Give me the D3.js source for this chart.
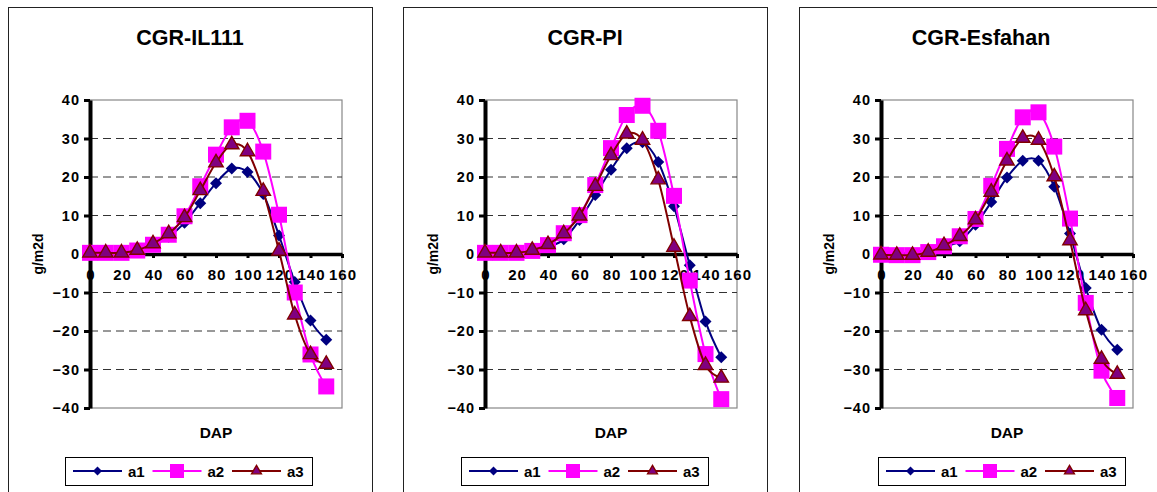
<!DOCTYPE html>
<html>
<head>
<meta charset="utf-8">
<script src="https://cdn.jsdelivr.net/npm/d3@7"></script>
<style>
    body { margin: 0; background: #fff; }
    text { font-family: "Liberation Sans", Arial, sans-serif; font-weight: bold; }
</style>
</head>
<body>
<div id="chart"></div>
<script>
// ######################## Data #############################################
const dap = [0, 10, 20, 30, 40, 50, 60, 70, 80, 90, 100, 110, 120, 130, 140, 150];
const seriesNames = ["a1", "a2", "a3"];
const panelTitles = ["CGR-IL111", "CGR-PI", "CGR-Esfahan"];
const xTicks = [0, 20, 40, 60, 80, 100, 120, 140, 160];
const yTicks = [-40, -30, -20, -10, 0, 10, 20, 30, 40];

const il111A1 = [0, 0, 0.2, 0.5, 2.2, 4.5, 8.1, 13.2, 18.4, 22.2, 21.3, 15.6, 4.8, -7.3, -17.3, -22.3];
const il111A2 = [0.3, 0.3, 0.3, 0.9, 2.4, 5.0, 9.8, 17.6, 25.8, 32.9, 34.6, 26.6, 10.2, -10.0, -26.1, -34.4];
const il111A3 = [0.3, 0.3, 0.3, 1.0, 2.7, 5.3, 9.5, 16.5, 23.7, 28.4, 26.6, 16.3, 0.8, -15.8, -26.1, -28.6];

const piA1 = [0, 0, 0.2, 0.5, 1.8, 3.8, 8.8, 15.3, 21.9, 27.5, 29.0, 23.9, 12.4, -2.9, -17.5, -26.8];
const piA2 = [0.3, 0.3, 0.3, 0.8, 2.3, 5.4, 10.1, 17.9, 27.5, 36.1, 38.5, 32.0, 15.1, -6.9, -26.0, -37.7];
const piA3 = [0.3, 0.3, 0.3, 1.0, 2.5, 5.3, 9.9, 17.6, 25.6, 31.2, 29.6, 19.3, 1.8, -16.2, -28.9, -32.2];

const esfA1 = [-0.1, 0, 0.3, 1.2, 2.0, 3.3, 7.6, 13.5, 19.9, 24.2, 24.2, 17.5, 5.3, -8.8, -19.7, -24.9];
const esfA2 = [-0.2, -0.3, -0.3, 0.5, 2.0, 4.6, 9.1, 17.7, 27.3, 35.5, 36.8, 27.9, 9.2, -12.7, -30.3, -37.4];
const esfA3 = [-0.2, -0.3, -0.3, 0.5, 2.2, 4.6, 8.9, 16.1, 24.2, 30.1, 29.6, 20.1, 3.5, -14.7, -27.3, -31.2];

const panelSeries = [
    [il111A1, il111A2, il111A3],
    [piA1, piA2, piA3],
    [esfA1, esfA2, esfA3]
];

// ######################## Layout / style ###################################
const W = 1157, H = 492;
const frameLefts = [8, 403, 799];
const frameWidth = 364;
const legendOffsets = [57, 58, 79]; // legend box left, relative to frame
const plot = { left: 82, width: 252, top: 100, bottom: 408 };

const styles = {
    a1: { color: "#000080", marker: "diamond" },
    a2: { color: "#FF00FF", marker: "square" },
    a3: { color: "#800000", marker: "triangle", fill: "#800080" }
};

const svg = d3.select("#chart")
    .append("svg")
    .attr("width", W)
    .attr("height", H);

svg.append("rect").attr("width", W).attr("height", H).attr("fill", "#fff");

// draw one marker centred on (cx, cy)
function drawMarker(g, name, cx, cy, big) {
    const st = styles[name];
    if (st.marker === "diamond") {
        const r = big ? 6 : 4.5;
        g.append("path")
            .attr("d", `M${cx},${cy - r}L${cx + r},${cy}L${cx},${cy + r}L${cx - r},${cy}Z`)
            .attr("fill", st.color);
    } else if (st.marker === "square") {
        const s = big ? 16 : 14;
        g.append("rect")
            .attr("x", cx - s / 2).attr("y", cy - s / 2)
            .attr("width", s).attr("height", s)
            .attr("fill", st.color);
    } else {
        g.append("path")
            .attr("d", d3.symbol(d3.symbolTriangle, big ? 90 : 42)())
            .attr("transform", `translate(${cx},${cy})`)
            .attr("fill", st.fill)
            .attr("stroke", st.color)
            .attr("stroke-width", 1.4);
    }
}

function styleTicks(sel, size, spacing) {
    return sel.attr("fill", "#000")
        .style("font-size", size + "px")
        .style("font-family", "'Liberation Sans', Arial, sans-serif")
        .style("font-weight", "bold")
        .style("letter-spacing", spacing + "px");
}

function drawPanel(i) {
    const fx = frameLefts[i];
    const g = svg.append("g");

    // chart area frame (bottom runs off the picture)
    g.append("rect")
        .attr("x", fx + 0.5).attr("y", 7.5)
        .attr("width", frameWidth).attr("height", 520)
        .attr("fill", "none")
        .attr("stroke", "#222")
        .attr("stroke-width", 1);

    g.append("text")
        .attr("x", fx + frameWidth / 2)
        .attr("y", 45)
        .attr("text-anchor", "middle")
        .style("font-size", "21.5px")
        .text(panelTitles[i]);

    const x0 = fx + plot.left;
    const x = d3.scaleLinear().domain([0, 160]).range([x0, x0 + plot.width]);
    const y = d3.scaleLinear().domain([-40, 40]).range([plot.bottom, plot.top]);

    // plot area border
    g.append("rect")
        .attr("x", x(0)).attr("y", y(40))
        .attr("width", x(160) - x(0)).attr("height", y(-40) - y(40))
        .attr("fill", "none")
        .attr("stroke", "#888")
        .attr("stroke-width", 1.2);

    // dashed gridlines
    g.selectAll(".grid")
        .data(yTicks.filter(v => v !== 0 && Math.abs(v) !== 40))
        .join("line")
        .attr("x1", x(0)).attr("x2", x(160))
        .attr("y1", d => y(d)).attr("y2", d => y(d))
        .attr("stroke", "#333")
        .attr("stroke-width", 1)
        .attr("stroke-dasharray", "8,5");

    // x axis through zero
    const xAxis = g.append("g")
        .attr("transform", `translate(0,${y(0)})`)
        .call(d3.axisBottom(x).tickValues(xTicks).tickSize(4).tickSizeOuter(0).tickPadding(11));
    xAxis.select(".domain").attr("stroke", "#000").attr("stroke-width", 3.5);
    xAxis.selectAll(".tick line").attr("stroke", "#000").attr("stroke-width", 3);
    styleTicks(xAxis.selectAll(".tick text"), 15, 1).attr("dx", 0.5);

    // y axis
    const yAxis = g.append("g")
        .attr("transform", `translate(${x(0)},0)`)
        .call(d3.axisLeft(y).tickValues(yTicks).tickSize(6).tickSizeOuter(0).tickPadding(4));
    yAxis.select(".domain").attr("stroke", "#000").attr("stroke-width", 4);
    yAxis.selectAll(".tick line").attr("stroke", "#000").attr("stroke-width", 3);
    styleTicks(yAxis.selectAll(".tick text"), 14.5, 1);

    // axis titles
    g.append("text")
        .attr("transform", `translate(${fx + 35},${y(0)}) rotate(-90)`)
        .attr("text-anchor", "middle")
        .style("font-size", "14px")
        .text("g/m2d");

    g.append("text")
        .attr("x", (x(0) + x(160)) / 2)
        .attr("y", 438)
        .attr("text-anchor", "middle")
        .style("font-size", "15.5px")
        .text("DAP");

    // series: line then markers, in Excel order
    const line = d3.line()
        .x((d, k) => x(dap[k]))
        .y(d => y(d))
        .curve(d3.curveCardinal.tension(0));

    panelSeries[i].forEach((vals, s) => {
        const name = seriesNames[s];
        const sg = g.append("g");
        sg.append("path")
            .datum(vals)
            .attr("fill", "none")
            .attr("stroke", styles[name].color)
            .attr("stroke-width", 2)
            .attr("d", line);
        vals.forEach((v, k) => drawMarker(sg, name, x(dap[k]), y(v), true));
    });

    // legend
    const lx = fx + legendOffsets[i];
    const lg = g.append("g");
    lg.append("rect")
        .attr("x", lx + 0.5).attr("y", 457.5)
        .attr("width", 247).attr("height", 28)
        .attr("fill", "#fff")
        .attr("stroke", "#000")
        .attr("stroke-width", 1);
    seriesNames.forEach((name, s) => {
        const ix = lx + 8 + s * 79.5;
        const cy = 471;
        lg.append("line")
            .attr("x1", ix).attr("x2", ix + 49)
            .attr("y1", cy).attr("y2", cy)
            .attr("stroke", styles[name].color)
            .attr("stroke-width", 2);
        drawMarker(lg, name, ix + 24.5, cy, false);
        lg.append("text")
            .attr("x", ix + 55)
            .attr("y", cy + 5.5)
            .style("font-size", "15px")
            .text(name);
    });
}

panelTitles.forEach((t, i) => drawPanel(i));
</script>
</body>
</html>
